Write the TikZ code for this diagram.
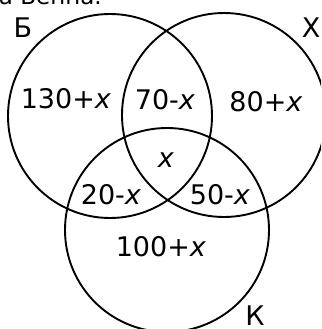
\documentclass[tikz,border=0pt]{standalone}
\usepackage{fontspec}
\setmainfont{DejaVu Sans}
\begin{document}
\begin{tikzpicture}[x=1pt,y=-1pt,
  setc/.style={draw=black,line width=1.9pt,circle,minimum size=204pt,inner sep=0pt},
  lbl/.style={font=\fontsize{27}{27}\selectfont,inner sep=0pt}]
\useasboundingbox (0,0) rectangle (321,329);
\clip (0,0) rectangle (321,329);
\node[setc] (B) at (110,116) {};
\node[setc] (H) at (224,115) {};
\node[setc] (K) at (167,230) {};
\node[font=\fontsize{23}{23}\selectfont,inner sep=0pt,anchor=base east] (title) at (102,5) {а Венна.};
\node[lbl] (lB) at (23,27.5) {Б};
\node[lbl] (lH) at (311,27.5) {Х};
\node[lbl] (lK) at (255,315.5) {К};
\node[lbl] (b) at (66,99) {130+\textit{x}};
\node[lbl] (bh) at (165,100) {70-\textit{x}};
\node[lbl] (h) at (266,102) {80+\textit{x}};
\node[lbl] (all) at (166,160) {\textit{x}};
\node[lbl] (bk) at (111,195) {20-\textit{x}};
\node[lbl] (hk) at (220,195) {50-\textit{x}};
\node[lbl] (k) at (161,247) {100+\textit{x}};
\end{tikzpicture}
\end{document}
